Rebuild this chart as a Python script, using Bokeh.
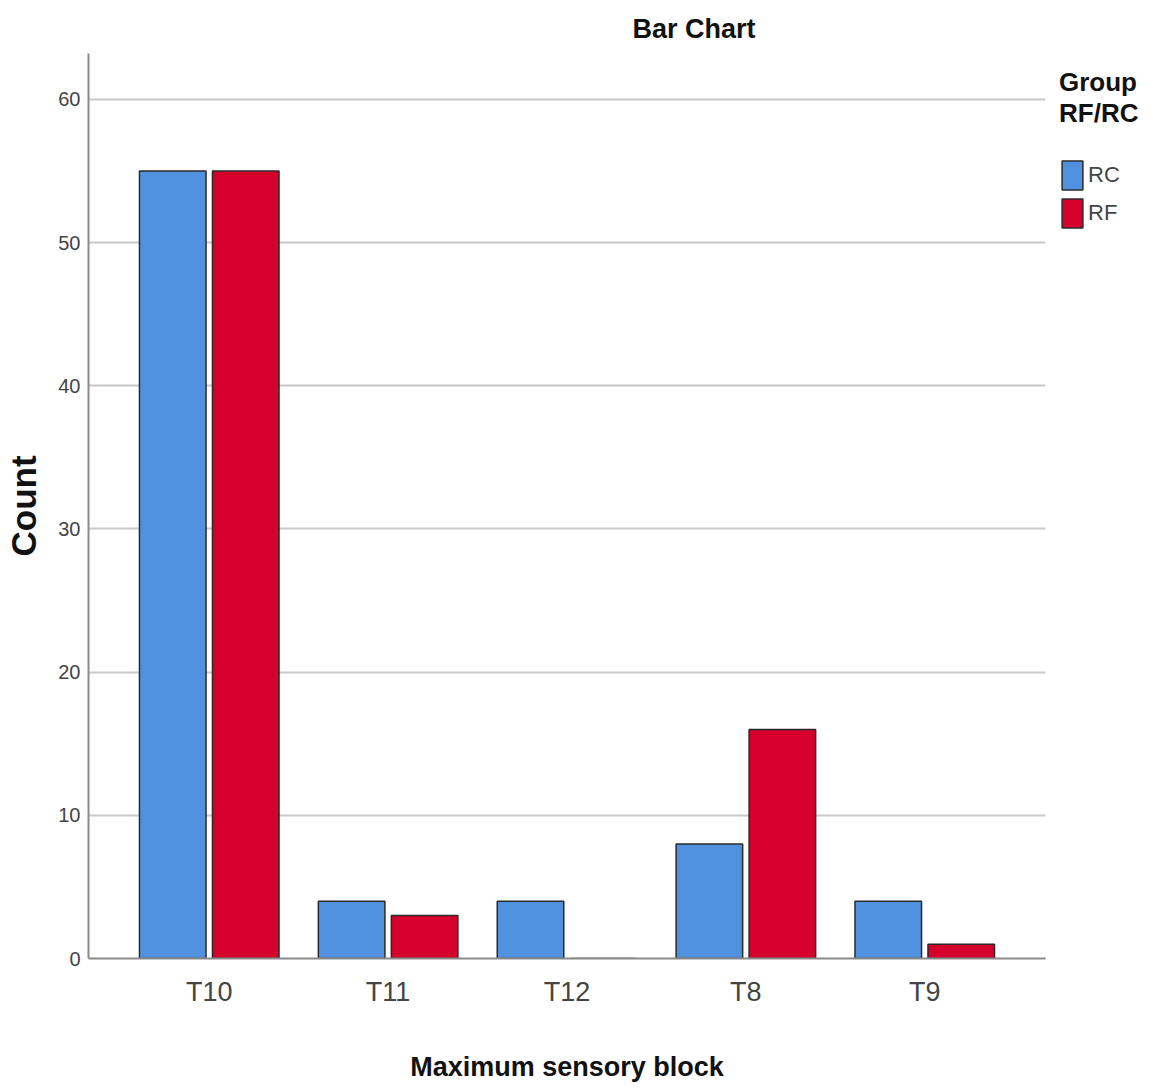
from bokeh.plotting import figure
from bokeh.models import ColumnDataSource, FactorRange, Range1d, Legend, LegendItem, FixedTicker
from bokeh.transform import dodge
from bokeh.embed import file_html
from bokeh.resources import INLINE

categories = ["T10", "T11", "T12", "T8", "T9"]
rc_counts = [55, 4, 4, 8, 4]
rf_counts = [55, 3, 0, 16, 1]
y_ticks = [0, 10, 20, 30, 40, 50, 60]

FONT = "'Liberation Sans', Arial, sans-serif"

src = ColumnDataSource(dict(cat=categories, rc=rc_counts, rf=rf_counts))

p = figure(
    x_range=FactorRange(factors=categories, range_padding=0.175, range_padding_units="absolute"),
    y_range=Range1d(0, 63.2),
    frame_width=957, frame_height=905,
    output_backend="svg", toolbar_location=None,
    min_border_left=88, min_border_right=108, min_border_top=53, min_border_bottom=134,
)

rc_r = p.vbar(x=dodge("cat", -0.204, range=p.x_range), top="rc", width=0.372, source=src,
              fill_color="#5092E0", line_color="#2a2a2a", line_width=1.5)
rf_r = p.vbar(x=dodge("cat", 0.204, range=p.x_range), top="rf", width=0.372, source=src,
              fill_color="#D5002C", line_color="#2a2a2a", line_width=1.5)

p.title.text = "Bar Chart"
p.title.text_font = FONT
p.title.text_font_size = "27px"
p.title.text_font_style = "bold"
p.title.text_color = "#111111"
p.title.align = "left"
p.title.offset = 544
p.title.standoff = 20

p.outline_line_color = None
p.xgrid.grid_line_color = None
p.ygrid.grid_line_color = "#c8c8c8"
p.ygrid.grid_line_width = 2
p.yaxis.ticker = FixedTicker(ticks=y_ticks)

for ax in (p.xaxis[0], p.yaxis[0]):
    ax.axis_line_color = "#8a8a8a"
    ax.axis_line_width = 2
    ax.major_tick_line_color = None
    ax.minor_tick_line_color = None
    ax.major_tick_out = 0
    ax.major_tick_in = 0
    ax.major_label_text_font = FONT
    ax.major_label_text_color = "#444444"
    ax.axis_label_text_font = FONT
    ax.axis_label_text_font_style = "bold"
    ax.axis_label_text_color = "#111111"

p.yaxis.major_label_text_font_size = "20px"
p.yaxis.major_label_standoff = 8
p.yaxis.axis_label = "Count"
p.yaxis.axis_label_text_font_size = "35px"
p.yaxis.axis_label_standoff = 12

p.xaxis.major_label_text_font_size = "27px"
p.xaxis.major_label_standoff = 18
p.xaxis.axis_label = "Maximum sensory block"
p.xaxis.axis_label_text_font_size = "27px"
p.xaxis.axis_label_standoff = 42

legend = Legend(
    items=[LegendItem(label="RC", renderers=[rc_r]), LegendItem(label="RF", renderers=[rf_r])],
    title="Group\nRF/RC",
    location="top_left",
    margin=14, padding=0, spacing=2,
    glyph_width=26, glyph_height=36, label_height=36, label_standoff=3,
    title_standoff=28,
    label_text_font=FONT, label_text_font_size="22px", label_text_color="#444444",
    title_text_font=FONT, title_text_font_size="26px", title_text_font_style="bold",
    title_text_color="#111111",
    border_line_color=None, background_fill_alpha=0,
)
p.add_layout(legend, "right")

open("out.html", "w").write(file_html(p, INLINE))
